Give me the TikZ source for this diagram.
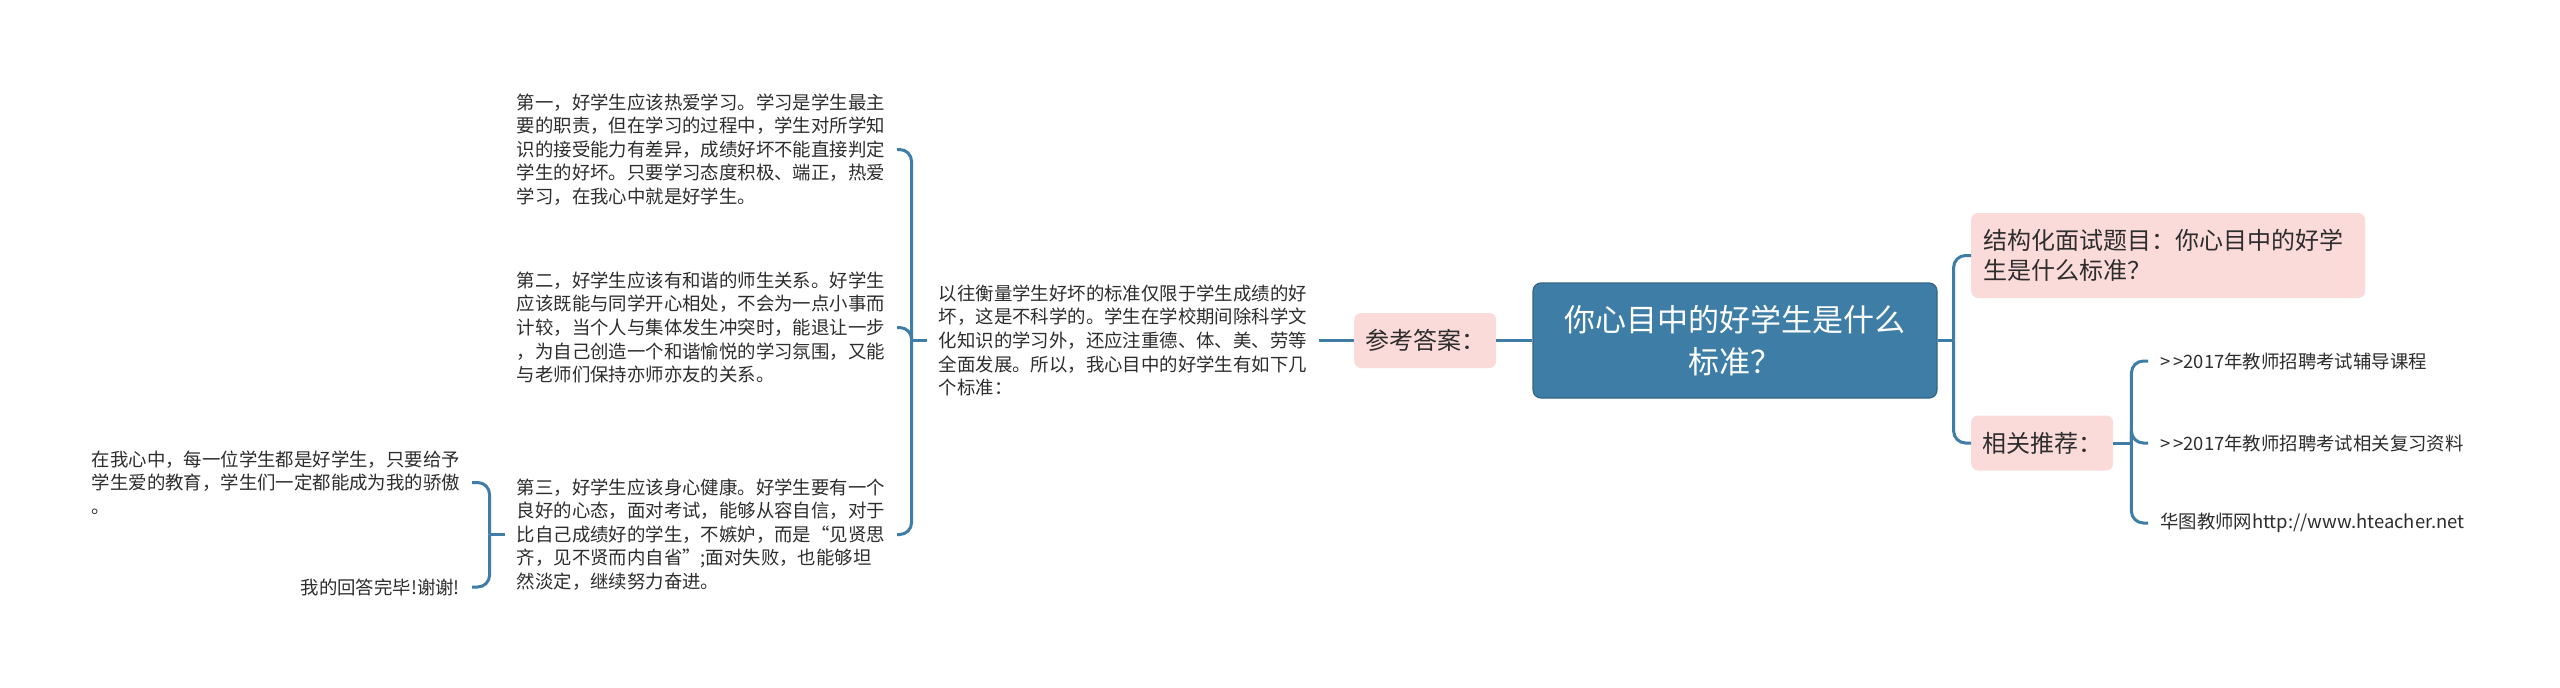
\documentclass[tikz,border=0pt]{standalone}
\usepackage{fontspec}
\setmainfont{Noto Sans CJK SC}
\usepackage{xcolor}
\usepackage{tikz}
\usetikzlibrary{positioning}

\definecolor{rootblue}{RGB}{62,126,166}
\definecolor{tagpink}{RGB}{251,219,218}
\definecolor{textgray}{RGB}{45,45,45}

\begin{document}
\begin{tikzpicture}[x=1pt,y=-1pt]

                % pixel grid: 1pt = 1px, y grows downwards
                \edef\sizefork{15pt}
                \tikzstyle{mmtext}=[text=textgray,inner sep=12pt,font=\fontsize{18.4}{23.6}\selectfont]
                \tikzstyle{mmpara}=[mmtext,text width=368pt,align=left]
                \tikzstyle{mmtag}=[rectangle,rounded corners=7pt,fill=tagpink,inner xsep=11pt,inner ysep=8pt,minimum height=55pt,text=textgray,font=\fontsize{24}{30}\selectfont]
                \tikzstyle{mmroot}=[rectangle,rounded corners=8pt,fill=rootblue,draw=rootblue!80!black,line width=1.2pt,text=white,align=center,minimum width=404pt,minimum height=115pt,font=\fontsize{31}{42}\selectfont]
                \tikzstyle{mmline}=[draw=rootblue,line width=3pt]
                \tikzstyle{mmelbow}=[mmline,rounded corners=12pt]

                \useasboundingbox (0,0) rectangle (2560,688);
                \fill[white] (0,0) rectangle (2560,688);

                % centre and the answer branch
                \node [mmroot] (root) at (1735,340.5) {你心目中的好学生是什么\\标准？};
                \node [mmtag,left=36pt of root] (answer) {参考答案：};
                \node [mmpara,left=35pt of answer] (intro) {以往衡量学生好坏的标准仅限于学生成绩的好\\坏，这是不科学的。学生在学校期间除科学文\\化知识的学习外，还应注重德、体、美、劳等\\全面发展。所以，我心目中的好学生有如下几\\个标准：};

                \node [mmpara,anchor=east] (first) at (897,149.5) {第一，好学生应该热爱学习。学习是学生最主\\要的职责，但在学习的过程中，学生对所学知\\识的接受能力有差异，成绩好坏不能直接判定\\学生的好坏。只要学习态度积极、端正，热爱\\学习，在我心中就是好学生。};
                \node [mmpara,anchor=east] (second) at (897,327.5) {第二，好学生应该有和谐的师生关系。好学生\\应该既能与同学开心相处，不会为一点小事而\\计较，当个人与集体发生冲突时，能退让一步\\，为自己创造一个和谐愉悦的学习氛围，又能\\与老师们保持亦师亦友的关系。};
                \node [mmpara,anchor=east] (third) at (897,534.5) {第三，好学生应该身心健康。好学生要有一个\\良好的心态，面对考试，能够从容自信，对于\\比自己成绩好的学生，不嫉妒，而是“见贤思\\齐，见不贤而内自省”;面对失败，也能够坦\\然淡定，继续努力奋进。};

                \node [mmpara,anchor=east] (pride) at (472,482.5) {在我心中，每一位学生都是好学生，只要给予\\学生爱的教育，学生们一定都能成为我的骄傲\\。};
                \node [mmtext,anchor=east] (thanks) at (472,587) {我的回答完毕!谢谢!};

                % right side
                \node [mmtag,anchor=west,text width=370pt,align=left,minimum height=85pt,inner xsep=12pt] (topic) at (1971,255.5) {结构化面试题目：你心目中的好学\\生是什么标准？};
                \node [mmtag,anchor=west] (recommend) at (1971,443) {相关推荐：};
                \node [mmtext,anchor=west] (link1) at (2148,361) {>\,>2017年教师招聘考试辅导课程};
                \node [mmtext,anchor=west] (link2) at (2148,443) {>\,>2017年教师招聘考试相关复习资料};
                \node [mmtext,anchor=west] (link3) at (2148,523) {华图教师网http://www.hteacher.net};

                % connectors
                \draw[mmline] (answer) -- (root);
                \draw[mmline] (intro) -- (answer);

                \coordinate (introfork) at ([xshift=-\sizefork]intro.west);
                \draw[mmline] (intro.west) -- (introfork);
                \foreach \kid in {first,second,third}
                    \draw[mmelbow] (introfork) |- (\kid.east);

                \coordinate (thirdfork) at ([xshift=-\sizefork]third.west);
                \draw[mmline] (third.west) -- (thirdfork);
                \foreach \kid in {pride,thanks}
                    \draw[mmelbow] (thirdfork) |- (\kid.east);

                \coordinate (rootfork) at ([xshift=16pt]root.east);
                \draw[mmline] (root.east) -- (rootfork);
                \foreach \kid in {topic,recommend}
                    \draw[mmelbow] (rootfork) |- (\kid.west);

                \coordinate (recfork) at ([xshift=18pt]recommend.east);
                \draw[mmline] (recommend.east) -- (recfork);
                \foreach \kid in {link1,link2,link3}
                    \draw[mmelbow] (recfork) |- (\kid.west);

\end{tikzpicture}
\end{document}
